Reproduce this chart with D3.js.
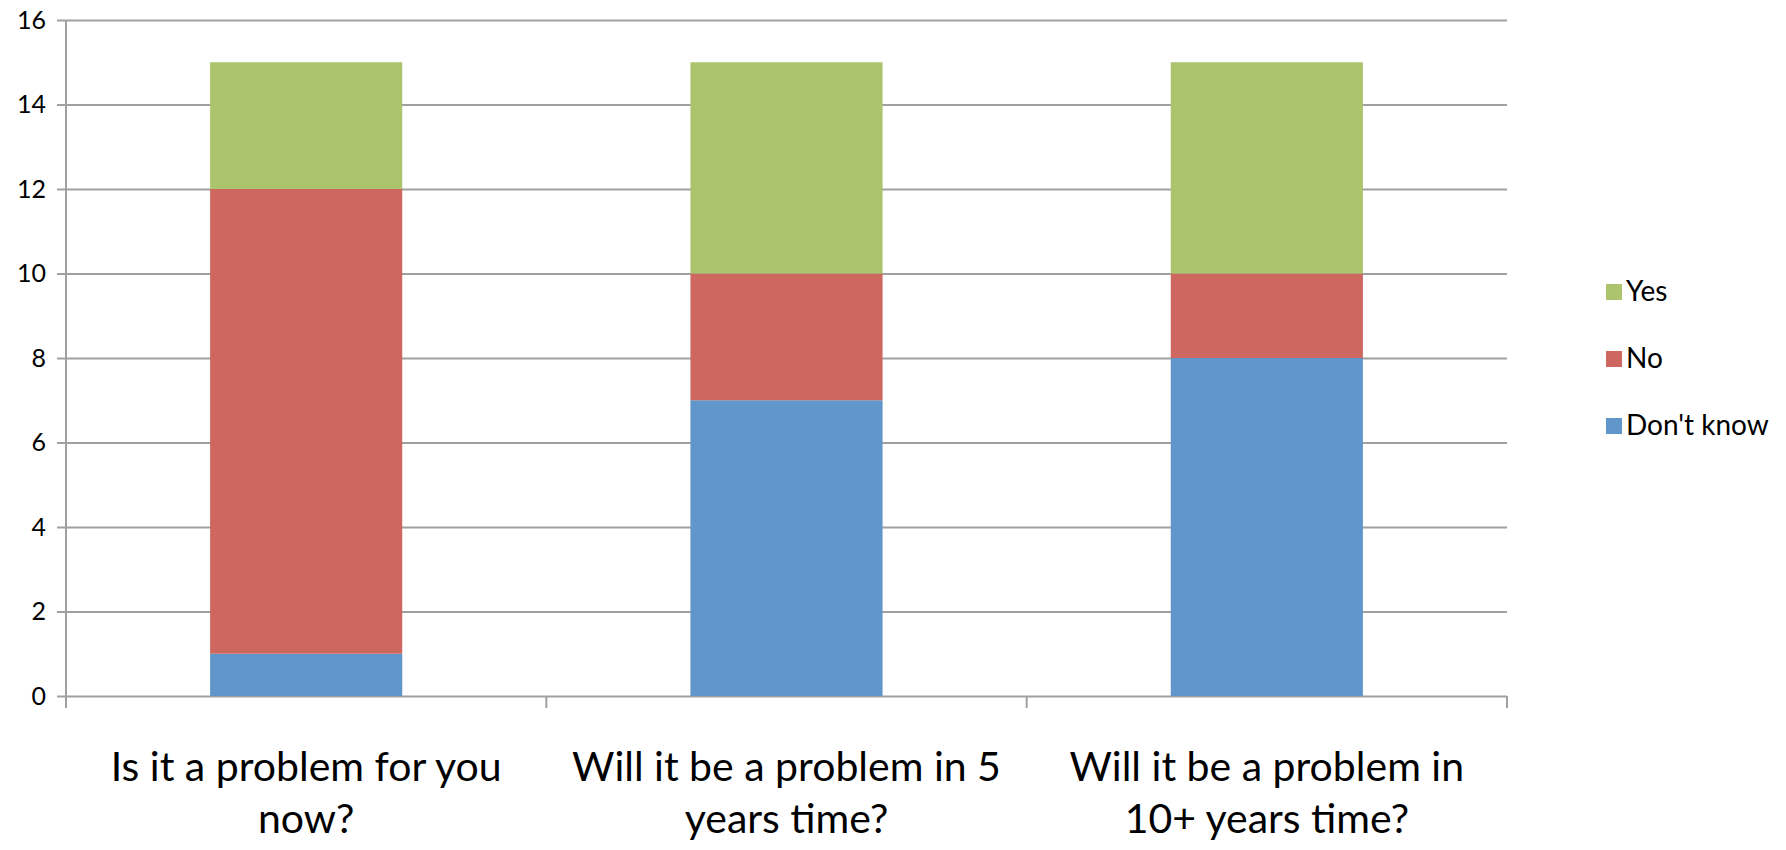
<!DOCTYPE html>
<html>
<head>
<meta charset="utf-8">
<script src="https://cdn.jsdelivr.net/npm/d3@7"></script>
<style>
	body { margin: 0; background: #fff; }
	svg { display: block; font-family: Lato, "Open Sans", sans-serif; }
</style>
</head>
<body>
<div id="vis"></div>
<script>
// declare constants
const FRAME_WIDTH = 1786;
const FRAME_HEIGHT = 850;
const MARGINS = {left: 66, right: 279, top: 20, bottom: 154};

const VIS_WIDTH = FRAME_WIDTH - MARGINS.left - MARGINS.right;
const VIS_HEIGHT = FRAME_HEIGHT - MARGINS.top - MARGINS.bottom;

// data
const categories = ["Is it a problem for you now?",
					"Will it be a problem in 5 years time?",
					"Will it be a problem in 10+ years time?"];
const seriesNames = ["Don't know", "No", "Yes"];
const dontKnow = [1, 7, 8];
const no = [11, 3, 2];
const yes = [3, 5, 5];
const yTicks = [0, 2, 4, 6, 8, 10, 12, 14, 16];

const COLORS = {"Yes": "#abc46d", "No": "#ce6760", "Don't know": "#6096c9"};

// table for stacking
const table = categories.map((c, i) => {
	return {category: c, "Don't know": dontKnow[i], "No": no[i], "Yes": yes[i]};
});
const stacked = d3.stack().keys(seriesNames)(table);

// frame
const FRAME =
d3.select("#vis")
	.append("svg")
		.attr("width", FRAME_WIDTH)
		.attr("height", FRAME_HEIGHT);

const G = FRAME.append("g")
		.attr("transform", "translate(" + MARGINS.left + "," + MARGINS.top + ")");

// scales
const X_SCALE = d3.scaleBand()
					.domain(categories)
					.range([0, VIS_WIDTH]);
const BAR_SCALE = d3.scaleBand()
					.domain(categories)
					.range([0, VIS_WIDTH])
					.paddingInner(0.6)
					.paddingOuter(0.3);
const Y_SCALE = d3.scaleLinear()
					.domain([0, 16])
					.range([VIS_HEIGHT, 0]);

// gridlines + y axis
const yAxis = G.append("g")
		.call(d3.axisLeft(Y_SCALE).tickValues(yTicks).tickSize(-VIS_WIDTH).tickPadding(20).tickSizeOuter(0));
yAxis.select(".domain").remove();
yAxis.selectAll(".tick line")
		.attr("x1", -9)
		.attr("stroke", "#a0a0a0")
		.attr("stroke-width", 2);
yAxis.selectAll(".tick text")
		.attr("font-size", "25px")
		.attr("fill", "#000")
		.attr("font-family", "Lato, sans-serif");

// vertical axis line
G.append("line")
		.attr("x1", 0).attr("x2", 0)
		.attr("y1", Y_SCALE(16)).attr("y2", VIS_HEIGHT + 12)
		.attr("stroke", "#a0a0a0")
		.attr("stroke-width", 2);

// category separator ticks
const bounds = categories.map((c) => X_SCALE(c)).concat([VIS_WIDTH]);
G.selectAll(".sep")
	.data(bounds.slice(1))
	.enter()
	.append("line")
		.attr("class", "sep")
		.attr("x1", (d) => d).attr("x2", (d) => d)
		.attr("y1", VIS_HEIGHT).attr("y2", VIS_HEIGHT + 12)
		.attr("stroke", "#a0a0a0")
		.attr("stroke-width", 2);

// bars
G.selectAll(".layer")
	.data(stacked)
	.enter()
	.append("g")
		.attr("class", "layer")
		.attr("fill", (d) => COLORS[d.key])
	.selectAll("rect")
	.data((d) => d)
	.enter()
	.append("rect")
		.attr("x", (d) => BAR_SCALE(d.data.category))
		.attr("y", (d) => Y_SCALE(d[1]))
		.attr("width", BAR_SCALE.bandwidth())
		.attr("height", (d) => Y_SCALE(d[0]) - Y_SCALE(d[1]));

// wrapped category labels
const LABEL_SIZE = 41;
function wrap(text, width) {
	let words = text.split(" ");
	let lines = [];
	let line = [];
	const probe = FRAME.append("text").attr("font-size", LABEL_SIZE + "px");
	words.forEach((w) => {
		line.push(w);
		probe.text(line.join(" "));
		if (probe.node().getComputedTextLength() > width && line.length > 1) {
			line.pop();
			lines.push(line.join(" "));
			line = [w];
		}
	});
	lines.push(line.join(" "));
	probe.remove();
	return lines;
}

categories.forEach((c) => {
	const lines = wrap(c, 452);
	const t = G.append("text")
			.attr("text-anchor", "middle")
			.attr("font-size", LABEL_SIZE + "px")
			.attr("fill", "#000")
			.attr("x", X_SCALE(c) + X_SCALE.bandwidth() / 2)
			.attr("y", VIS_HEIGHT + 85);
	lines.forEach((l, i) => {
		t.append("tspan")
			.attr("x", X_SCALE(c) + X_SCALE.bandwidth() / 2)
			.attr("dy", i == 0 ? 0 : 52)
			.text(l);
	});
});

// legend
const legendOrder = ["Yes", "No", "Don't know"];
const LEGEND = FRAME.append("g")
		.attr("transform", "translate(1606,284)");
legendOrder.forEach((k, i) => {
	LEGEND.append("rect")
		.attr("x", 0)
		.attr("y", i * 67)
		.attr("width", 16)
		.attr("height", 16)
		.attr("fill", COLORS[k]);
	LEGEND.append("text")
		.attr("x", 20)
		.attr("y", i * 67 + 17)
		.attr("font-size", "28px")
		.attr("fill", "#000")
		.text(k);
});
</script>
</body>
</html>
